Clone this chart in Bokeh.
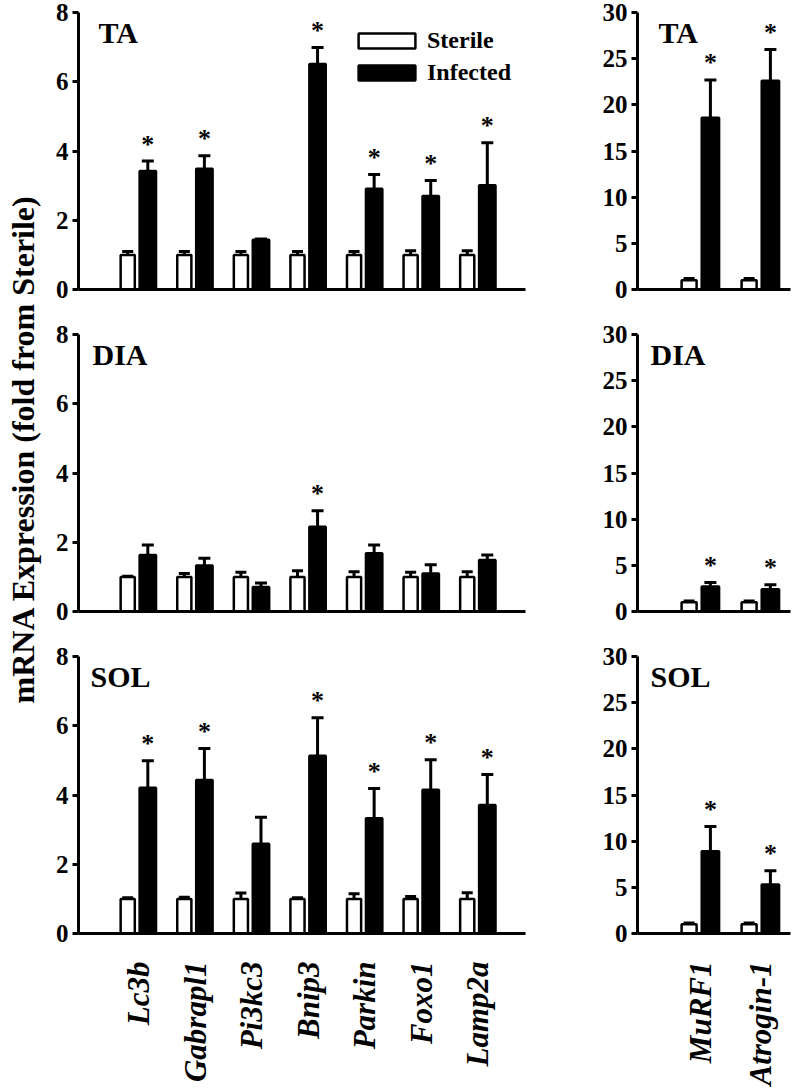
import math
from bokeh.plotting import figure
from bokeh.models import (ColumnDataSource, Whisker, TeeHead, Legend, LegendItem,
                          Label, FixedTicker, Range1d)
from bokeh.layouts import row, column
from bokeh.embed import file_html
from bokeh.resources import INLINE
from bokeh.core.properties import value

FONT = "Liberation Serif"

# ---------------- data ----------------
genes = ["Lc3b", "Gabrapl1", "Pi3kc3", "Bnip3", "Parkin", "Foxo1", "Lamp2a"]
atro_genes = ["MuRF1", "Atrogin-1"]

ta_sterile = [1.0, 1.0, 1.0, 1.0, 1.0, 1.0, 1.0]
ta_sterile_err = [0.10, 0.10, 0.10, 0.10, 0.10, 0.12, 0.12]
ta_infected = [3.42, 3.49, 1.44, 6.51, 2.91, 2.70, 3.01]
ta_infected_err = [0.29, 0.37, 0.02, 0.48, 0.41, 0.45, 1.23]
ta_sig = [True, True, False, True, True, True, True]

dia_sterile = [1.0, 1.0, 1.0, 1.0, 1.0, 1.0, 1.0]
dia_sterile_err = [0.02, 0.10, 0.13, 0.18, 0.15, 0.13, 0.15]
dia_infected = [1.63, 1.33, 0.71, 2.45, 1.68, 1.10, 1.49]
dia_infected_err = [0.29, 0.21, 0.11, 0.46, 0.24, 0.25, 0.14]
dia_sig = [False, False, False, True, False, False, False]

sol_sterile = [1.0, 1.0, 1.0, 1.0, 1.0, 1.0, 1.0]
sol_sterile_err = [0.03, 0.05, 0.17, 0.03, 0.15, 0.07, 0.18]
sol_infected = [4.21, 4.43, 2.59, 5.13, 3.33, 4.15, 3.71]
sol_infected_err = [0.78, 0.91, 0.77, 1.10, 0.86, 0.87, 0.88]
sol_sig = [True, True, False, True, True, True, True]

ta_atro_sterile = [1.0, 1.0]
ta_atro_sterile_err = [0.2, 0.2]
ta_atro_infected = [18.6, 22.6]
ta_atro_infected_err = [4.1, 3.4]
ta_atro_sig = [True, True]

dia_atro_sterile = [1.0, 1.0]
dia_atro_sterile_err = [0.15, 0.15]
dia_atro_infected = [2.7, 2.4]
dia_atro_infected_err = [0.45, 0.5]
dia_atro_sig = [True, True]

sol_atro_sterile = [1.0, 1.0]
sol_atro_sterile_err = [0.15, 0.15]
sol_atro_infected = [8.9, 5.3]
sol_atro_infected_err = [2.7, 1.5]
sol_atro_sig = [True, True]

left_ticks = [0, 2, 4, 6, 8]
right_ticks = [0, 5, 10, 15, 20, 25, 30]
y_title = "mRNA Expression (fold from Sterile)"

# ---------------- layout constants ----------------
FRAME_H = 277
LEFT_W = 447
RIGHT_W = 153
LEFT_X = (-0.06, 7.84)
RIGHT_X = (-0.05, 2.50)
TOP_B = (12, 15, 15)
BOT_B = (30, 30, 148)


def panel(cats, st, st_err, inf, inf_err, sig, ymax, yticks, title,
          xr, frame_w, bl, br, bt, bb, title_px, with_labels, legend=False):
    n = len(cats)
    xs = [i + 1 for i in range(n)]
    p = figure(frame_width=frame_w, frame_height=FRAME_H,
               x_range=Range1d(*xr), y_range=Range1d(0, ymax),
               toolbar_location=None, output_backend="svg",
               min_border_left=bl, min_border_right=br,
               min_border_top=bt, min_border_bottom=bb)
    p.outline_line_color = None
    p.xgrid.visible = False
    p.ygrid.visible = False
    p.background_fill_color = "white"
    p.border_fill_color = "white"

    s_st = ColumnDataSource(dict(x=[x - 0.19 for x in xs], top=st,
                                 hi=[a + b for a, b in zip(st, st_err)]))
    s_in = ColumnDataSource(dict(x=[x + 0.165 for x in xs], top=inf,
                                 hi=[a + b for a, b in zip(inf, inf_err)]))
    r_st = p.vbar(x="x", top="top", bottom=0, width=0.25, source=s_st,
                  fill_color="white", line_color="black", line_width=2.5)
    r_in = p.vbar(x="x", top="top", bottom=0, width=0.29, source=s_in,
                  fill_color="black", line_color="black", line_width=2.5)

    for src, cap in ((s_st, 11), (s_in, 12)):
        w = Whisker(base="x", lower="top", upper="hi", source=src,
                    dimension="height", line_width=3, line_color="black",
                    upper_head=TeeHead(size=cap, line_width=3, line_color="black"),
                    lower_head=None)
        p.add_layout(w)

    ax = [x + 0.165 for x, s in zip(xs, sig) if s]
    ay = [a + b for a, b, s in zip(inf, inf_err, sig) if s]
    p.text(x=ax, y=ay, text=["*"] * len(ax), text_font=value(FONT),
           text_font_style="bold", text_font_size="26px", text_align="center",
           text_baseline="middle", y_offset=-17, text_color="black")

    ppu = frame_w / (xr[1] - xr[0])
    p.add_layout(Label(x=xr[0] + title_px / ppu, y=ymax - 3 * ymax / FRAME_H,
                       text=title, text_font=FONT, text_font_style="bold",
                       text_font_size="30px", text_baseline="top",
                       text_align="left", text_color="black"))

    # y axis
    p.yaxis.ticker = FixedTicker(ticks=yticks)
    p.yaxis.axis_line_width = 3
    p.yaxis.axis_line_color = "black"
    p.yaxis.major_tick_line_width = 3
    p.yaxis.major_tick_line_color = "black"
    p.yaxis.major_tick_out = 6
    p.yaxis.major_tick_in = 0
    p.yaxis.minor_tick_line_color = None
    p.yaxis.major_label_standoff = 4
    p.yaxis.major_label_text_font = FONT
    p.yaxis.major_label_text_font_style = "bold"
    p.yaxis.major_label_text_font_size = "25px"
    p.yaxis.major_label_text_color = "black"

    # x axis
    p.xaxis.axis_line_width = 3
    p.xaxis.axis_line_color = "black"
    p.xaxis.major_tick_line_color = None
    p.xaxis.minor_tick_line_color = None
    if with_labels:
        p.xaxis.ticker = FixedTicker(ticks=xs)
        p.xaxis.major_label_overrides = {x: c for x, c in zip(xs, cats)}
        p.xaxis.major_label_orientation = math.pi / 2
        p.xaxis.major_label_standoff = 22
        p.xaxis.major_label_text_font = FONT
        p.xaxis.major_label_text_font_style = "bold italic"
        p.xaxis.major_label_text_font_size = "31px"
        p.xaxis.major_label_text_color = "black"
    else:
        p.xaxis.ticker = FixedTicker(ticks=[])

    if legend:
        lg = Legend(items=[LegendItem(label="Sterile", renderers=[r_st]),
                           LegendItem(label="Infected", renderers=[r_in])],
                    location=(273, 203), glyph_width=71, glyph_height=19,
                    label_text_font=FONT, label_text_font_style="bold",
                    label_text_font_size="24px", label_text_color="black",
                    label_standoff=5, spacing=5, padding=0, margin=0,
                    border_line_color=None, background_fill_alpha=0)
        p.add_layout(lg)
    return p


# left column
lta = panel(genes, ta_sterile, ta_sterile_err, ta_infected, ta_infected_err, ta_sig,
            8, left_ticks, "TA", LEFT_X, LEFT_W, 30, 67, TOP_B[0], BOT_B[0], 20, False,
            legend=True)
ldia = panel(genes, dia_sterile, dia_sterile_err, dia_infected, dia_infected_err, dia_sig,
             8, left_ticks, "DIA", LEFT_X, LEFT_W, 30, 67, TOP_B[1], BOT_B[1], 14, False)
lsol = panel(genes, sol_sterile, sol_sterile_err, sol_infected, sol_infected_err, sol_sig,
             8, left_ticks, "SOL", LEFT_X, LEFT_W, 30, 67, TOP_B[2], BOT_B[2], 12, True)

# right column
rta = panel(atro_genes, ta_atro_sterile, ta_atro_sterile_err, ta_atro_infected,
            ta_atro_infected_err, ta_atro_sig, 30, right_ticks, "TA", RIGHT_X, RIGHT_W,
            45, 2, TOP_B[0], BOT_B[0], 21, False)
rdia = panel(atro_genes, dia_atro_sterile, dia_atro_sterile_err, dia_atro_infected,
             dia_atro_infected_err, dia_atro_sig, 30, right_ticks, "DIA", RIGHT_X, RIGHT_W,
             45, 2, TOP_B[1], BOT_B[1], 13, False)
rsol = panel(atro_genes, sol_atro_sterile, sol_atro_sterile_err, sol_atro_infected,
             sol_atro_infected_err, sol_atro_sig, 30, right_ticks, "SOL", RIGHT_X, RIGHT_W,
             45, 2, TOP_B[2], BOT_B[2], 13, True)

# y-axis title strip
TOTAL_H = sum(TOP_B) + sum(BOT_B) + 3 * FRAME_H
tf = figure(frame_width=48, frame_height=TOTAL_H, x_range=Range1d(0, 1),
            y_range=Range1d(0, 1), toolbar_location=None, output_backend="svg",
            x_axis_location=None, y_axis_location=None,
            min_border_left=0, min_border_right=0, min_border_top=0, min_border_bottom=0)
tf.outline_line_color = None
tf.xgrid.visible = False
tf.ygrid.visible = False
tf.add_layout(Label(x=0.46, y=1 - 448.5 / TOTAL_H, text=y_title, angle=math.pi / 2,
                    text_font=FONT, text_font_style="bold", text_font_size="32px",
                    text_align="center", text_baseline="middle", text_color="black"))

layout = row(tf, column(lta, ldia, lsol), column(rta, rdia, rsol))

with open("out.html", "w") as f:
    f.write(file_html(layout, INLINE))
